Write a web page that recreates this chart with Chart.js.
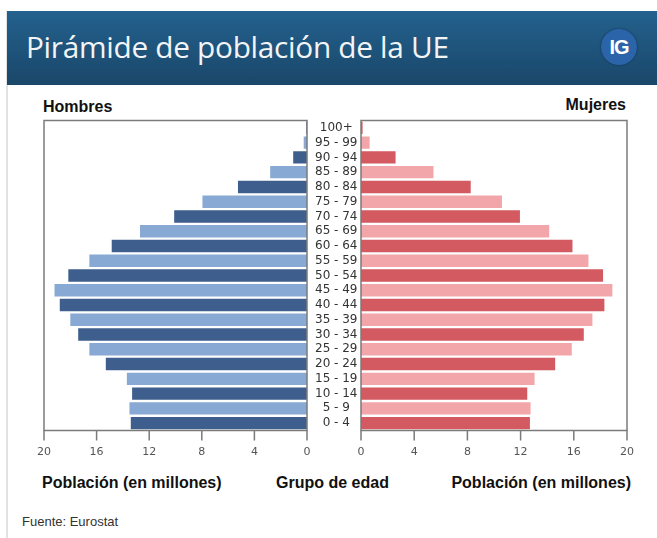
<!DOCTYPE html>
<html>
<head>
<meta charset="utf-8">
<script src="https://cdn.jsdelivr.net/npm/chart.js@4.4.0/dist/chart.umd.min.js"></script>
<style>
  body { margin: 0; background: #fff; width: 657px; height: 538px; position: relative; overflow: hidden; font-family: "Liberation Sans", Arial, sans-serif; }
  .card { position: absolute; left: 6px; top: 11px; width: 660px; height: 540px; border-left: 2px solid #e2e2e2; }
  .header { position: absolute; left: 7px; top: 11px; width: 650px; height: 74px;
            background: linear-gradient(#23618e, #1a4769); }
  .header h1 { position: absolute; left: 19px; top: 15px; margin: 0; font: 400 29.8px "Open Sans", sans-serif; color: #f2f4f6; letter-spacing: -0.3px; }
  .logo { position: absolute; left: 594px; top: 18px; width: 36px; height: 36px; border-radius: 50%;
          background: #2b64a9; box-shadow: 0 0 2px #0d2d48; color: #fff; font: bold 20px "Liberation Sans", Arial, sans-serif;
          text-align: center; line-height: 37px; letter-spacing: -1px; }
  .lbl { position: absolute; font-weight: bold; font-size: 16px; color: #111; white-space: nowrap; }
  .src { position: absolute; left: 22px; top: 514px; font: 13px "Liberation Sans Narrow", "Liberation Sans", sans-serif; color: #333; }
</style>
</head>
<body>
<div class="card"></div>
<div class="header"><h1>Pirámide de población de la UE</h1><div class="logo">IG</div></div>
<div class="lbl" style="left:43px; top:98px;">Hombres</div>
<div class="lbl" style="right:31px; top:96px;">Mujeres</div>
<div style="position:absolute; left:30px; top:110px; width:331px; height:360px;"><canvas id="leftChart"></canvas></div>
<div style="position:absolute; left:347px; top:110px; width:300px; height:360px;"><canvas id="rightChart"></canvas></div>
<div class="lbl" style="left:42px; top:474px;">Población (en millones)</div>
<div class="lbl" style="left:276px; top:474px;">Grupo de edad</div>
<div class="lbl" style="right:26px; top:474px;">Población (en millones)</div>
<div class="src">Fuente: Eurostat</div>

<script>
// age groups from youngest to oldest
const ageGroups = ['0 - 4', '5 - 9', '10 - 14', '15 - 19', '20 - 24', '25 - 29', '30 - 34', '35 - 39', '40 - 44',
  '45 - 49', '50 - 54', '55 - 59', '60 - 64', '65 - 69', '70 - 74', '75 - 79', '80 - 84', '85 - 89', '90 - 94', '95 - 99', '100+'];

// population in millions
const hombres = [13.4, 13.5, 13.3, 13.7, 15.3, 16.55, 17.4, 18.0, 18.8, 19.2, 18.15, 16.55, 14.85, 12.7, 10.1, 7.95, 5.25, 2.8, 1.05, 0.25, 0.05];
const mujeres = [12.7, 12.75, 12.5, 13.05, 14.6, 15.85, 16.75, 17.4, 18.3, 18.9, 18.2, 17.1, 15.9, 14.15, 11.95, 10.6, 8.25, 5.45, 2.6, 0.65, 0.12];

const xTicks = [0, 4, 8, 12, 16, 20];

const hombresColors = ['#3e5f8d', '#88a9d3'];
const mujeresColors = ['#d25a60', '#f3a6a9'];

const frameColor = '#7b7b7b';

// grey box round each panel, plus the tick marks under it
const framePlugin = {
  id: 'frame',
  afterDatasetsDraw(chart) {
    const a = chart.chartArea, ctx = chart.ctx, x = chart.scales.x;
    ctx.save();
    ctx.strokeStyle = frameColor;
    ctx.lineWidth = 1.5;
    ctx.strokeRect(a.left, a.top, a.right - a.left, a.bottom - a.top);
    ctx.beginPath();
    xTicks.forEach(v => {
      const px = x.getPixelForValue(v);
      ctx.moveTo(px, a.bottom);
      ctx.lineTo(px, a.bottom + 10);
    });
    ctx.stroke();
    ctx.restore();
  }
};

function makeChart(id, values, colors, isLeft) {
  return new Chart(document.getElementById(id), {
    type: 'bar',
    data: {
      labels: ageGroups,
      datasets: [{
        data: values,
        backgroundColor: values.map((v, i) => colors[i % 2]),
        borderWidth: 0,
        barPercentage: 0.84,
        categoryPercentage: 1
      }]
    },
    options: {
      indexAxis: 'y',
      responsive: true,
      maintainAspectRatio: false,
      animation: false,
      layout: { padding: isLeft ? { left: 14, top: 10.5, right: 0, bottom: 0 } : { left: 14, top: 10.5, right: 20, bottom: 0 } },
      plugins: { legend: { display: false }, tooltip: { enabled: false } },
      scales: {
        x: {
          reverse: isLeft,
          min: 0,
          max: 20,
          afterBuildTicks: axis => { axis.ticks = xTicks.map(v => ({ value: v })); },
          grid: { display: false },
          border: { display: false },
          ticks: { color: '#555', font: { family: 'DejaVu Sans', size: 11 }, padding: 7, maxRotation: 0 },
          afterFit: axis => { axis.height = 39.5; }
        },
        y: {
          reverse: true,
          display: isLeft,
          position: 'right',
          grid: { display: false },
          border: { display: false },
          ticks: { color: '#333', font: { family: 'DejaVu Sans', size: 12 }, crossAlign: 'center', padding: 0, autoSkip: false },
          afterFit: axis => { axis.width = isLeft ? 54 : 0; }
        }
      }
    },
    plugins: [framePlugin]
  });
}

makeChart('leftChart', hombres, hombresColors, true);
makeChart('rightChart', mujeres, mujeresColors, false);
</script>
</body>
</html>
